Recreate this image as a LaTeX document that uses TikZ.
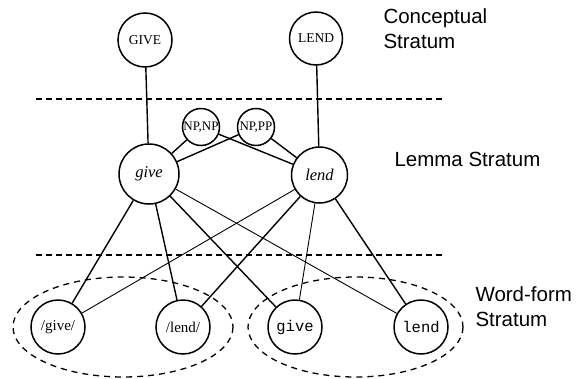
\documentclass[tikz,border=0pt]{standalone}
\usepackage{fontspec}
\setmainfont{Liberation Serif}
\newfontfamily\labelfont{Liberation Sans}
\newfontfamily\codefont{Liberation Mono}
\begin{document}
\begin{tikzpicture}[x=1pt,y=-1pt,
  unit/.style={draw,circle,line width=1.5pt,inner sep=0pt,minimum size=#1},
  unit/.default=54pt,
  link/.style={line width=1.4pt},
  thinlink/.style={line width=0.9pt},
  divider/.style={line width=1.6pt,dash pattern=on 6pt off 4pt},
  group/.style={line width=1.3pt,dash pattern=on 6pt off 5pt},
  stratum/.style={anchor=base west,align=left,font=\labelfont\fontsize{20.5}{25}\selectfont}]
\useasboundingbox (0,0) rectangle (588,378);

% strata dividers and word-form groupings
\draw[divider] (36,99) -- (442,99);
\draw[divider] (36,255) -- (442,255);
\draw[group] (123,327) ellipse [x radius=110, y radius=50];
\draw[group] (355.5,327) ellipse [x radius=107.5, y radius=50];

% conceptual nodes
\node[unit=54pt,font=\fontsize{13.5}{13.5}\selectfont] (GIVE) at (145,40) {GIVE};
\node[unit=53pt,font=\fontsize{13.5}{13.5}\selectfont] (LEND) at (316,38.5) {LEND};

% syntactic frames
\node[unit=37pt,font=\fontsize{13}{13}\selectfont] (npnp) at (201,127) {NP,NP};
\node[unit=37pt,font=\fontsize{13}{13}\selectfont] (nppp) at (256,127) {NP,PP};

% lemmas
\node[unit=60pt,font=\fontsize{16.5}{16.5}\selectfont\itshape] (give) at (149,174) {give};
\node[unit=56pt,font=\fontsize{16.5}{16.5}\selectfont\itshape] (lend) at (319.5,175) {lend};

% word forms
\node[unit=54pt,font=\fontsize{15}{15}\selectfont] (pgive) at (58,327) {/give/};
\node[unit=54pt,font=\fontsize{15}{15}\selectfont] (plend) at (183,327) {/lend/};
\node[unit=54pt,font=\codefont\fontsize{15.5}{15.5}\selectfont] (wgive) at (295,327) {give};
\node[unit=54pt,font=\codefont\fontsize{15.5}{15.5}\selectfont] (wlend) at (421,327) {lend};

% connections
\draw[link] (GIVE) -- (give);
\draw[link] (LEND) -- (lend);
\draw[link] (npnp) -- (give);
\draw[link] (npnp) -- (lend);
\draw[link] (nppp) -- (give);
\draw[link] (nppp) -- (lend);
\draw[link] (give) -- (pgive);
\draw[link] (give) -- (plend);
\draw[link] (give) -- (wgive);
\draw[thinlink] (give) -- (wlend);
\draw[thinlink] (lend) -- (pgive);
\draw[link] (lend) -- (plend);
\draw[thinlink] (lend) -- (wgive);
\draw[link] (lend) -- (wlend);

% stratum labels
\node[stratum] (lc) at (380,48) {Conceptual\\Stratum};
\node[stratum] (ll) at (391,166) {Lemma Stratum};
\node[stratum] (lw) at (472,326) {Word-form\\Stratum};
\end{tikzpicture}
\end{document}
